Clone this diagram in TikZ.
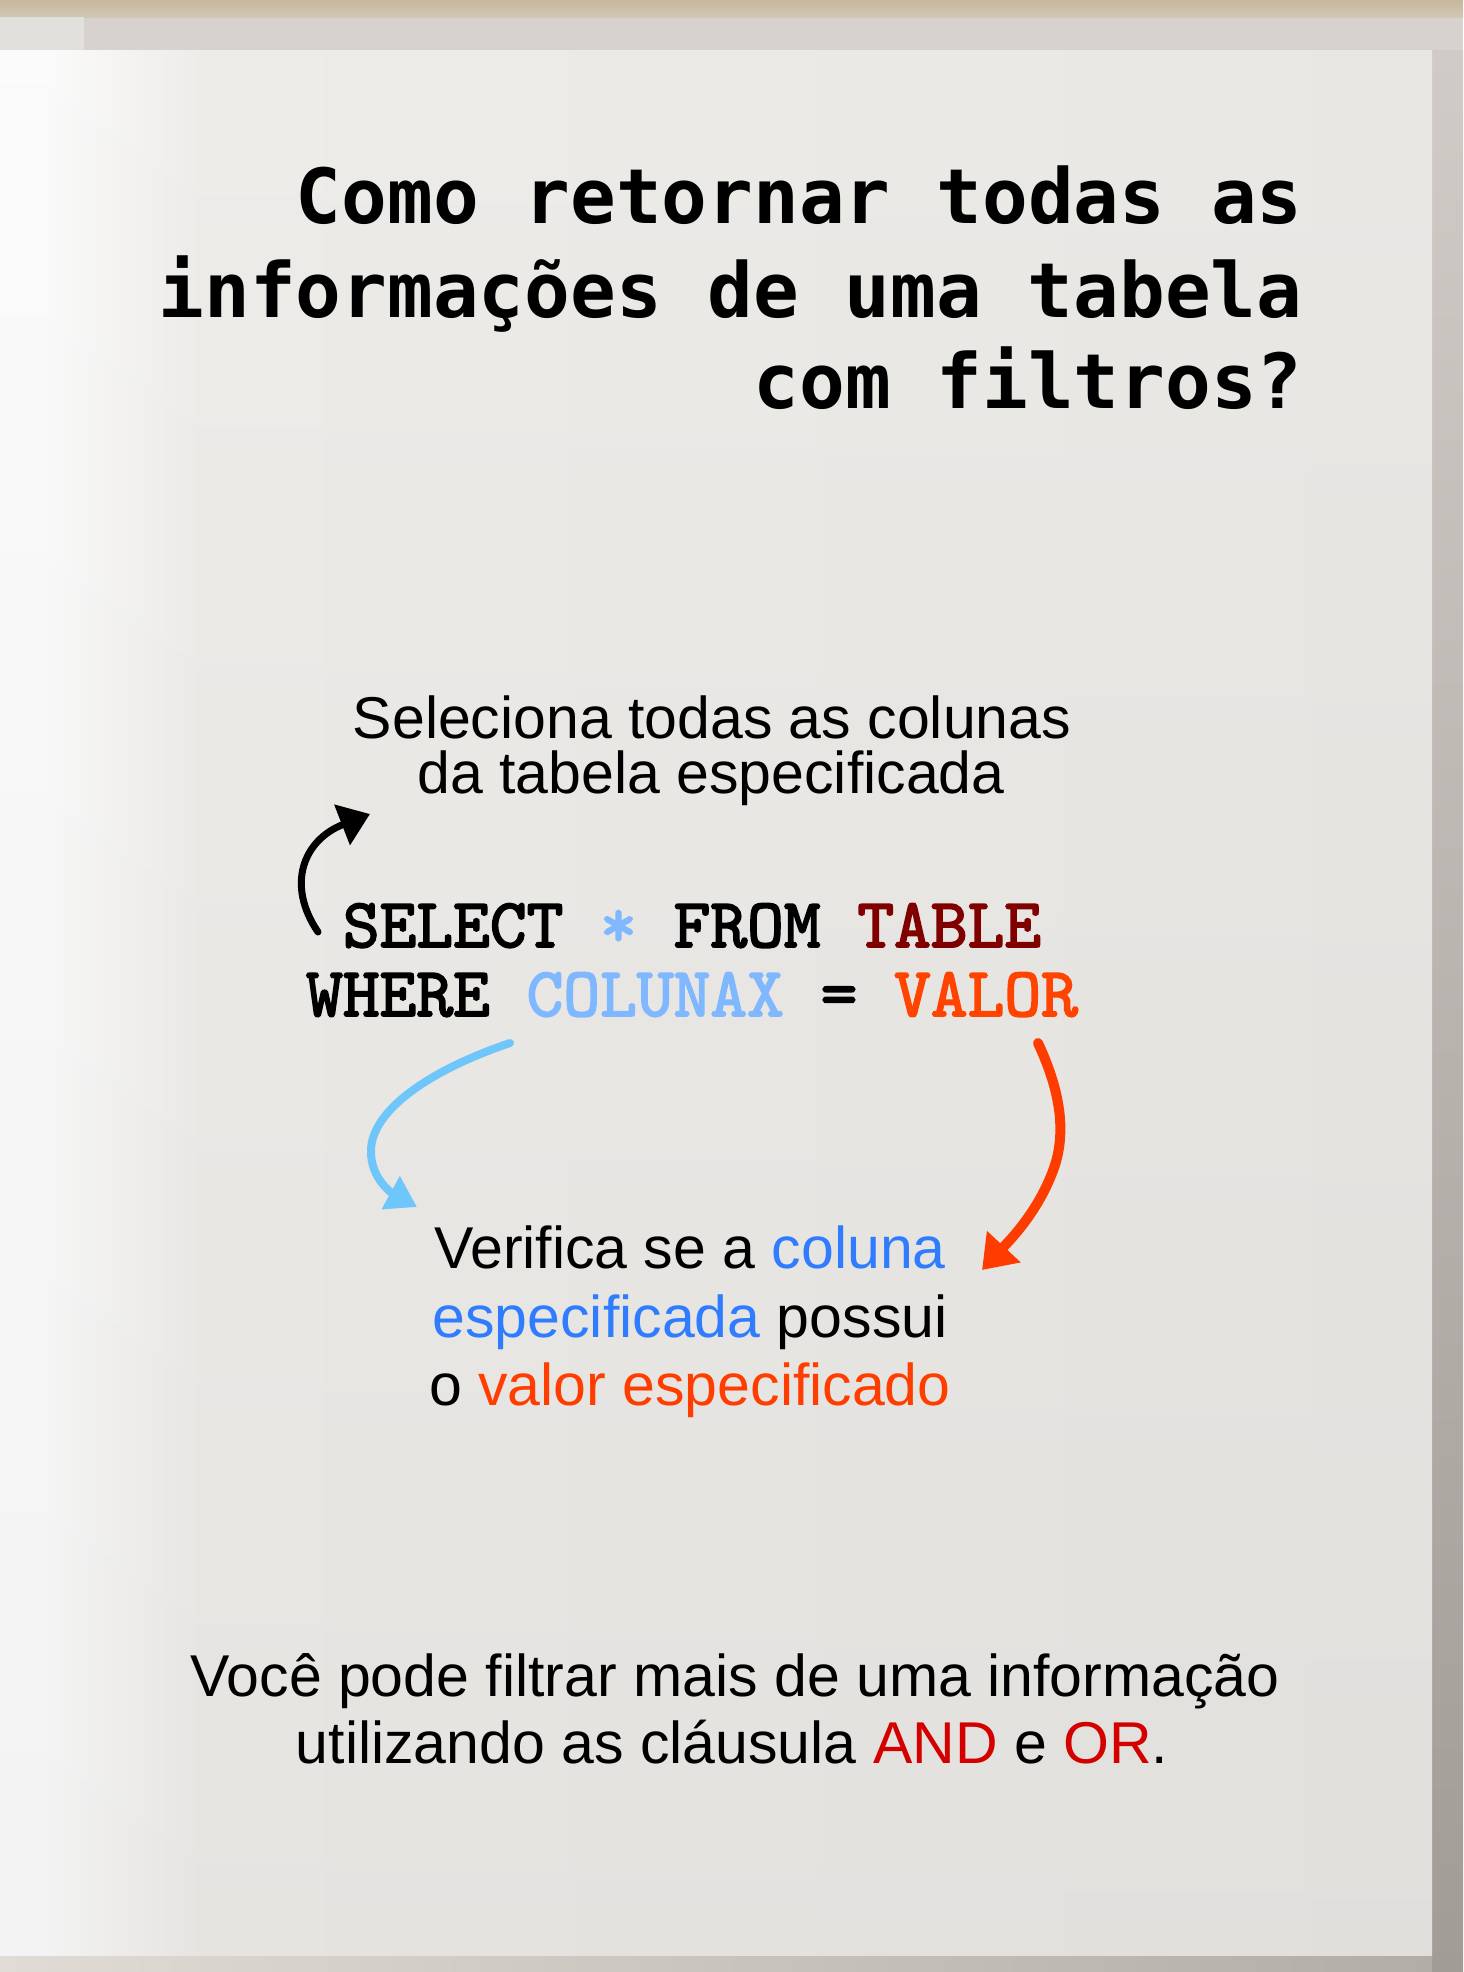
\documentclass[tikz,border=0pt]{standalone}
\usepackage{fontspec}
\setmainfont{Liberation Sans}
\newfontfamily\titlefont{DejaVu Sans Mono}
\newfontfamily\codefont{lmmono10-regular}[Extension=.otf, FakeBold=2.5]
\usetikzlibrary{arrows.meta}
\definecolor{pgwhite}{HTML}{FBFBFB}
\definecolor{pgmid}{HTML}{EEECE9}
\definecolor{pgright}{HTML}{E9E7E4}
\definecolor{bgbeige}{HTML}{C8B79C}
\definecolor{bgbeigelow}{HTML}{D2C6B4}
\definecolor{bggray}{HTML}{D7D2CD}
\definecolor{bglight}{HTML}{E2E0DC}
\definecolor{shadetop}{HTML}{D0CBC6}
\definecolor{shadebot}{HTML}{A29C97}
\definecolor{botleft}{HTML}{E0DBD4}
\definecolor{botright}{HTML}{B3ADA8}
\definecolor{codeblue}{HTML}{80B8FF}
\definecolor{tablered}{HTML}{800000}
\definecolor{valorred}{HTML}{FF4400}
\definecolor{txtblue}{HTML}{2F7CFF}
\definecolor{txtorange}{HTML}{FF3D00}
\definecolor{andred}{HTML}{D40000}
\definecolor{arrowblue}{HTML}{6EC6FA}
\definecolor{arroworange}{HTML}{FF3C00}
\pgfdeclarehorizontalshading{pageshade}{100bp}{color(0bp)=(pgwhite); color(25bp)=(pgwhite); color(26.5bp)=(pgwhite); color(32bp)=(pgmid); color(75bp)=(pgright); color(100bp)=(pgright)}
\begin{document}
\begin{tikzpicture}[x=0.5pt,y=-0.5pt,
  txt/.style={inner sep=0pt, anchor=base, font=\fontsize{29.5pt}{34pt}\selectfont},
  ttl/.style={inner sep=0pt, anchor=base east, font=\titlefont\bfseries\fontsize{38pt}{46pt}\selectfont},
  codeline/.style={inner sep=0pt, anchor=base, font=\codefont\fontsize{35pt}{40pt}\selectfont},
  blackpen/.style={draw=black, line width=3.5pt, line cap=round, line join=round, -{Triangle[length=15pt,width=21pt]}},
  bluepen/.style={draw=arrowblue, line width=4pt, line cap=round, line join=round, -{Triangle[length=15pt,width=18pt]}},
  redpen/.style={draw=arroworange, line width=5pt, line cap=round, line join=round, -{Triangle[length=16pt,width=22pt]}},
]
\useasboundingbox (0,0) rectangle (1463,1972);
% background
\fill[bggray] (0,0) rectangle (1463,1972);
\shade[top color=bgbeige, bottom color=bgbeigelow] (0,0) rectangle (1463,17);
\fill[bglight] (0,17) rectangle (84,50);
\shade[top color=shadetop, bottom color=shadebot] (1432,50) rectangle (1463,1972);
\shade[left color=botleft, right color=botright] (0,1955) rectangle (1432,1972);
% page
\shade[shading=pageshade] (0,50) rectangle (1432,1955);
\shade[top color=white, bottom color=black, opacity=0.03] (0,50) rectangle (1432,1955);

% title
\node[ttl] (title1) at (1303,223) {Como retornar todas as};
\node[ttl] (title2) at (1303,317) {informações de uma tabela};
\node[ttl] (title3) at (1303,408) {com filtros?};

% select note
\node[txt] (sel1) at (712,738) {Seleciona todas as colunas};
\node[txt] (sel2) at (711,793) {da tabela especificada};

% code
\node[codeline] (code1) at (692,947) {SELECT \textcolor{codeblue}{*} FROM \textcolor{tablered}{TABLE}};
\node[codeline] (code2) at (692,1016) {WHERE \textcolor{codeblue}{COLUNAX} = \textcolor{valorred}{VALOR}};

% verifica note
\node[txt] (ver1) at (690,1268) {Verifica se a \textcolor{txtblue}{coluna}};
\node[txt] (ver2) at (690,1337) {\textcolor{txtblue}{especificada} possui};
\node[txt] (ver3) at (690,1405) {o \textcolor{txtorange}{valor especificado}};

% bottom note
\node[txt] (note1) at (735,1696) {Você pode filtrar mais de uma informação};
\node[txt] (note2) at (732,1763) {utilizando as cláusula \textcolor{andred}{AND} e \textcolor{andred}{OR}.};

% arrows
\coordinate (selTail) at (318,932);
\coordinate (selTip) at (370,814);
\draw[blackpen] (selTail) .. controls (286,885) and (303,840) .. (selTip);

\coordinate (colTail) at (510,1043);
\coordinate (colTip) at (417,1207);
\draw[bluepen] (colTail) .. controls (430,1070) and (372,1110) .. (371,1150)
  .. controls (370,1180) and (395,1195) .. (colTip);

\coordinate (valTail) at (1038,1043);
\coordinate (valTip) at (982,1270);
\draw[redpen] (valTail) .. controls (1060,1090) and (1066,1130) .. (1055,1165)
  .. controls (1040,1210) and (1010,1240) .. (valTip);
\end{tikzpicture}
\end{document}
